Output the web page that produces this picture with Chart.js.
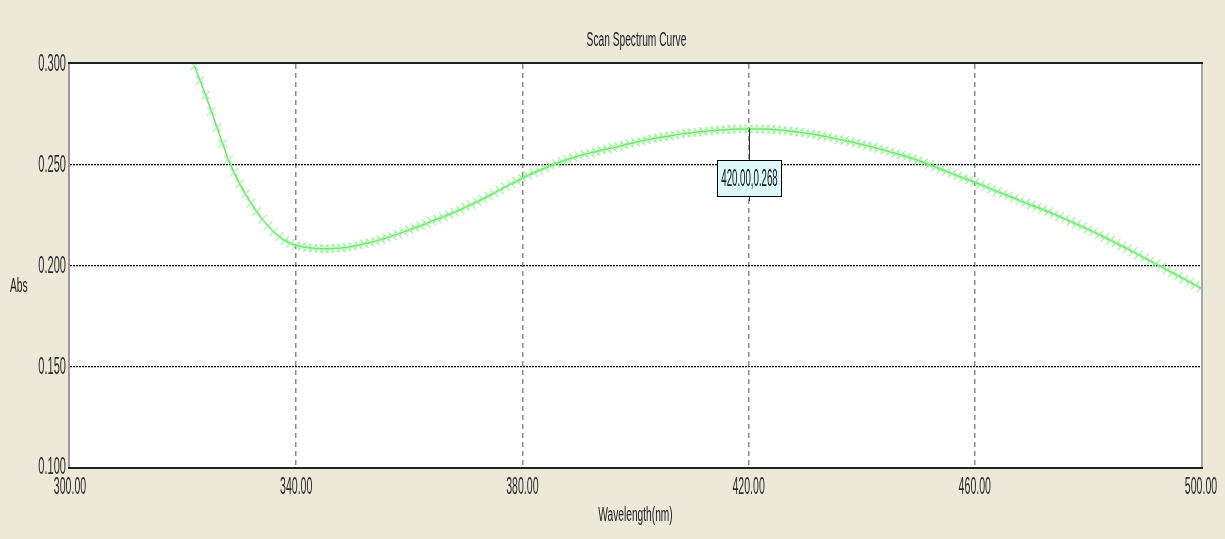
<!DOCTYPE html>
<html>
<head>
<meta charset="utf-8">
<script src="https://cdn.jsdelivr.net/npm/chart.js@4/dist/chart.umd.min.js"></script>
<style>
  html, body { margin: 0; padding: 0; background: #ECE9D8; }
  #wrap { width: 1225px; height: 539px; position: relative; }
</style>
</head>
<body>
<div id="wrap"><canvas id="c"></canvas></div>
<script>
// ---- data ----
const chartTitle = "Scan Spectrum Curve";
const xAxisTitle = "Wavelength(nm)";
const yAxisTitle = "Abs";
// one scan point per nm, from 322 nm to 500 nm
const startWavelength = 322;
const absValues = [
  0.2990,0.2918,0.2845,0.2765,0.2685,0.2604,0.2525,0.2462,0.2405,0.2355,
  0.2310,0.2268,0.2230,0.2197,0.2167,0.2143,0.2124,0.2110,0.2100,0.2093,
  0.2089,0.2086,0.2084,0.2083,0.2083,0.2085,0.2087,0.2090,0.2095,0.2101,
  0.2108,0.2114,0.2121,0.2129,0.2137,0.2147,0.2157,0.2167,0.2177,0.2187,
  0.2197,0.2208,0.2220,0.2231,0.2242,0.2253,0.2265,0.2277,0.2290,0.2303,
  0.2316,0.2330,0.2345,0.2360,0.2375,0.2390,0.2405,0.2419,0.2433,0.2447,
  0.2460,0.2472,0.2484,0.2495,0.2506,0.2516,0.2526,0.2535,0.2544,0.2552,
  0.2559,0.2566,0.2572,0.2578,0.2585,0.2591,0.2598,0.2605,0.2612,0.2618,
  0.2624,0.2629,0.2634,0.2639,0.2643,0.2648,0.2652,0.2656,0.2659,0.2662,
  0.2665,0.2668,0.2670,0.2672,0.2674,0.2676,0.2677,0.2678,0.2678,0.2678,
  0.2678,0.2677,0.2676,0.2674,0.2671,0.2668,0.2665,0.2661,0.2657,0.2653,
  0.2649,0.2644,0.2638,0.2632,0.2626,0.2620,0.2614,0.2608,0.2601,0.2594,
  0.2587,0.2580,0.2572,0.2564,0.2556,0.2548,0.2540,0.2531,0.2521,0.2511,
  0.2500,0.2489,0.2478,0.2467,0.2456,0.2445,0.2434,0.2424,0.2413,0.2402,
  0.2390,0.2378,0.2367,0.2356,0.2345,0.2334,0.2322,0.2311,0.2300,0.2289,
  0.2278,0.2267,0.2255,0.2243,0.2230,0.2218,0.2205,0.2193,0.2180,0.2167,
  0.2153,0.2139,0.2125,0.2111,0.2097,0.2083,0.2068,0.2053,0.2038,0.2023,
  0.2008,0.1993,0.1978,0.1963,0.1948,0.1933,0.1918,0.1903,0.1888];
const wavelengths = absValues.map((_, i) => startWavelength + i);
const xTicksLabels = ["300.00","340.00","380.00","420.00","460.00","500.00"];
const yTicksLabels = ["0.100","0.150","0.200","0.250","0.300"];
const cursorX = 420.00;
const cursorY = 0.268;
const cursorLabel = "420.00,0.268";

const FONT = '"Liberation Sans", Arial, sans-serif';
function condText(ctx, text, x, y, size, sx, align, baseline, color) {
  ctx.save();
  ctx.font = size + 'px ' + FONT;
  ctx.fillStyle = color || '#222';
  ctx.textAlign = align;
  ctx.textBaseline = baseline;
  ctx.translate(x, y);
  ctx.scale(sx, 1);
  ctx.fillText(text, 0, 0);
  ctx.restore();
}

const decor = {
  id: 'decor',
  beforeDraw(chart) {
    const ctx = chart.ctx, a = chart.chartArea;
    ctx.save();
    ctx.fillStyle = '#ECE9D8';
    ctx.fillRect(0, 0, chart.width, chart.height);
    ctx.fillStyle = '#FFFFFF';
    ctx.fillRect(a.left, a.top, a.right - a.left, a.bottom - a.top);
    ctx.restore();
  },
  afterDraw(chart) {
    const ctx = chart.ctx, a = chart.chartArea;
    const xs = chart.scales.x, ys = chart.scales.y;
    // frame
    ctx.save();
    ctx.fillStyle = '#9a9a9a';
    ctx.fillRect(a.left - 2, a.top - 2, 2, a.bottom - a.top + 4);
    ctx.fillStyle = '#a8a8a8';
    ctx.fillRect(a.right, a.top - 2, 2, a.bottom - a.top + 4);
    ctx.fillStyle = '#202020';
    ctx.fillRect(a.left - 2, a.top - 2, a.right - a.left + 4, 2);
    ctx.fillRect(a.left - 2, a.bottom, a.right - a.left + 4, 2);
    ctx.restore();
    // tick labels from the library's ticks
    xs.ticks.forEach((t, i) => {
      const px = xs.getPixelForValue(t.value);
      condText(ctx, xTicksLabels[i] || t.label, px, a.bottom + 21, 23, 0.46, 'center', 'middle', '#2a2a2a');
    });
    ys.ticks.forEach((t, i) => {
      const py = ys.getPixelForValue(t.value);
      condText(ctx, yTicksLabels[i] || t.label, a.left - 4, py + 1, 23, 0.48, 'right', 'middle', '#2a2a2a');
    });
    // titles
    condText(ctx, chartTitle, (a.left + a.right) / 2 + 1, 40, 20, 0.51, 'center', 'middle', '#1a1a1a');
    condText(ctx, xAxisTitle, (a.left + a.right) / 2, 515, 20, 0.51, 'center', 'middle', '#1a1a1a');
    condText(ctx, yAxisTitle, 10, 286, 20, 0.51, 'left', 'middle', '#1a1a1a');
    // cursor annotation
    const cx = Math.round(xs.getPixelForValue(cursorX)) + 0.5;
    const cy = ys.getPixelForValue(cursorY);
    const bw = 65, bh = 37;
    const bx = Math.round(cx - bw / 2), by = Math.round(cy + 32);
    ctx.save();
    ctx.strokeStyle = '#303030';
    ctx.lineWidth = 1;
    ctx.beginPath();
    ctx.moveTo(cx, cy);
    ctx.lineTo(cx, by);
    ctx.moveTo(cx, by + bh);
    ctx.lineTo(cx, by + bh + 4);
    ctx.stroke();
    ctx.fillStyle = '#DDFAFA';
    ctx.fillRect(bx, by, bw, bh);
    ctx.strokeStyle = '#000';
    ctx.strokeRect(bx + 0.5, by + 0.5, bw - 1, bh - 1);
    ctx.restore();
    condText(ctx, cursorLabel, cx, by + bh / 2 + 1, 23, 0.42, 'center', 'middle', '#111');
  }
};

new Chart(document.getElementById('c'), {
  type: 'line',
  data: {
    datasets: [{
      data: wavelengths.map((w, i) => ({ x: w, y: absValues[i] })),
      borderColor: '#66E666',
      borderWidth: 1.5,
      pointStyle: 'crossRot',
      pointRadius: 6,
      pointBorderColor: 'rgba(140,240,140,0.7)',
      pointBorderWidth: 1.3,
      pointBackgroundColor: 'transparent',
      tension: 0
    }]
  },
  options: {
    responsive: true,
    maintainAspectRatio: false,
    animation: false,
    events: [],
    layout: { padding: { top: 64, right: 24, bottom: 0, left: 0 } },
    plugins: { legend: { display: false }, tooltip: { enabled: false }, title: { display: false } },
    scales: {
      x: {
        type: 'linear', min: 300, max: 500,
        afterFit(s) { s.height = 72; },
        ticks: { stepSize: 40, color: 'rgba(0,0,0,0)', font: { size: 10 },
                 callback: v => v.toFixed(2) },
        grid: {
          drawTicks: false,
          lineWidth: 1.5,
          color: c => (c.index === 0 || c.index === 5) ? 'rgba(0,0,0,0)' : '#8c8c8c'
        },
        border: { display: false, dash: [5, 4] }
      },
      y: {
        type: 'linear', min: 0.1, max: 0.3,
        afterFit(s) { s.width = 70; },
        ticks: { stepSize: 0.05, color: 'rgba(0,0,0,0)', font: { size: 10 },
                 callback: v => v.toFixed(3) },
        grid: {
          drawTicks: false,
          lineWidth: 1.2,
          color: c => (c.index === 0 || c.index === 4) ? 'rgba(0,0,0,0)' : '#000'
        },
        border: { display: false, dash: [2, 1] }
      }
    }
  },
  plugins: [decor]
});
</script>
</body>
</html>
